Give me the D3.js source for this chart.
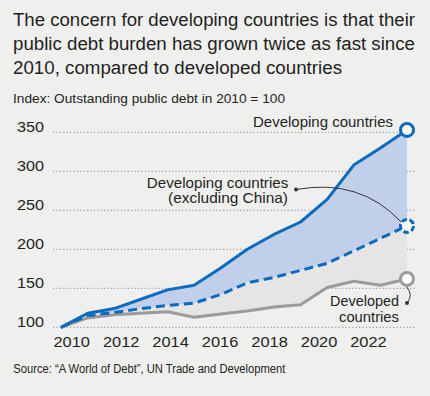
<!DOCTYPE html>
<html><head><meta charset="utf-8">
<script src="https://cdn.jsdelivr.net/npm/d3@7"></script>
<style>
html,body{margin:0;padding:0;background:#efefee;}
svg{display:block;}
text{font-family:"Liberation Sans",Arial,sans-serif;fill:#231f20;}
</style></head><body>
<svg id="c" width="430" height="396"></svg>
<script>
const years = [2010,2011,2012,2013,2014,2015,2016,2017,2018,2019,2020,2021,2022,2023];
const developing = [100,118,124,136,148,154,176,200,219,235,264,308,330,353];
const exChina = [100,115,119,124,128,131,142,157,164,173,182,198,214,230];
const developed = [100,112,116,118,120,113,117,121,126,129,151,159,154,162];
const yTicks = [100,150,200,250,300,350];
const xTicks = [2010,2012,2014,2016,2018,2020,2022];
const titleLines = ["The concern for developing countries is that their","public debt burden has grown twice as fast since","2010, compared to developed countries"];
const subtitle = "Index: Outstanding public debt in 2010 = 100";
const source = "Source: \u201cA World of Debt\u201d, UN Trade and Development";

const svg = d3.select("#c");
const x = d3.scaleLinear().domain([2010,2023]).range([61,407]);
const xLab = d3.scaleLinear().domain([2010,2022]).range([71.7,368.5]);
const y = d3.scaleLinear().domain([100,350]).range([327.3,132.3]);

// title
const tw = [402,402,329];
titleLines.forEach((t,i)=>{
  svg.append("text").attr("x",13).attr("y",26+i*24).attr("font-size",18)
    .attr("textLength",tw[i]).attr("lengthAdjust","spacingAndGlyphs").text(t);
});
svg.append("text").attr("x",13).attr("y",103).attr("font-size",13)
  .attr("textLength",272).attr("lengthAdjust","spacingAndGlyphs").text(subtitle);
svg.append("text").attr("x",13.3).attr("y",372.5).attr("font-size",12.5)
  .attr("textLength",272).attr("lengthAdjust","spacingAndGlyphs").text(source);

// grid
svg.append("g").selectAll("line").data(yTicks).join("line")
  .attr("x1",53).attr("x2",417).attr("y1",d=>y(d)).attr("y2",d=>y(d))
  .attr("stroke","#8a8a8a").attr("stroke-width",1).attr("stroke-dasharray","1.2,2.2");

// y labels
svg.append("g").selectAll("text").data(yTicks).join("text")
  .attr("x",44).attr("y",d=>y(d)).attr("text-anchor","end").attr("font-size",14.5)
  .attr("textLength",27).attr("lengthAdjust","spacingAndGlyphs").text(d=>d);
// x labels
svg.append("g").selectAll("text").data(xTicks).join("text")
  .attr("x",d=>xLab(d)).attr("y",347.3).attr("text-anchor","middle").attr("font-size",15)
  .attr("textLength",36.5).attr("lengthAdjust","spacingAndGlyphs").text(d=>d);

const rows = years.map((yr,i)=>({yr,a:developing[i],b:exChina[i],c:developed[i]}));
// fills
svg.append("path").datum(rows)
  .attr("d",d3.area().x(d=>x(d.yr)).y0(d=>y(d.c)).y1(d=>y(d.b)))
  .attr("fill","#e5e5e5");
svg.append("path").datum(rows)
  .attr("d",d3.area().x(d=>x(d.yr)).y0(d=>y(d.b)).y1(d=>y(d.a)))
  .attr("fill","#c2cfeb");

const line = d3.line().x(d=>x(d[0])).y(d=>y(d[1]));
svg.append("path").datum(years.map((yr,i)=>[yr,developed[i]]))
  .attr("d",line).attr("fill","none").attr("stroke","#9b9b9b").attr("stroke-width",3).attr("stroke-linejoin","round");
svg.append("path").datum(years.map((yr,i)=>[yr,exChina[i]]))
  .attr("d",line).attr("fill","none").attr("stroke","#0d6bbd").attr("stroke-width",3)
  .attr("stroke-dasharray","9,5");
svg.append("path").datum(years.map((yr,i)=>[yr,developing[i]]))
  .attr("d",line).attr("fill","none").attr("stroke","#0d6bbd").attr("stroke-width",3).attr("stroke-linejoin","round");

// leaders
const last = years.length-1;
const ex = x(years[last]);
svg.append("path")
  .attr("d",`M296,189.5 Q360,178 ${ex-6},${y(exChina[last])-4}`)
  .attr("fill","none").attr("stroke","#333").attr("stroke-width",1);
svg.append("circle").attr("cx",296).attr("cy",189.5).attr("r",2).attr("fill","#333");
svg.append("path")
  .attr("d",`M${ex},${y(developed[last])+24} Q${ex+7},${y(developed[last])+16} ${ex-1},${y(developed[last])+7}`)
  .attr("fill","none").attr("stroke","#333").attr("stroke-width",1);
svg.append("circle").attr("cx",ex).attr("cy",y(developed[last])+24).attr("r",2).attr("fill","#333");

// end circles
svg.append("circle").attr("cx",ex).attr("cy",y(developed[last])).attr("r",6.5)
  .attr("fill","#fff").attr("stroke","#9b9b9b").attr("stroke-width",3);
svg.append("circle").attr("cx",ex).attr("cy",y(exChina[last])).attr("r",6.5)
  .attr("fill","#fff").attr("stroke","#0d6bbd").attr("stroke-width",3).attr("stroke-dasharray","5.5,2.6");
svg.append("circle").attr("cx",ex).attr("cy",y(developing[last])).attr("r",6.5)
  .attr("fill","#fff").attr("stroke","#0d6bbd").attr("stroke-width",3);

// labels
function lab(t,xx,yy,w){
  svg.append("text").attr("x",xx).attr("y",yy).attr("text-anchor","end").attr("font-size",15)
    .attr("textLength",w).attr("lengthAdjust","spacingAndGlyphs").text(t);
}
lab("Developing countries",393,127,140);
lab("Developing countries",288.3,187.5,141.5);
lab("(excluding China)",288,203,120);
lab("Developed",399,305.5,69);
lab("countries",399,321.5,60);
</script></body></html>
